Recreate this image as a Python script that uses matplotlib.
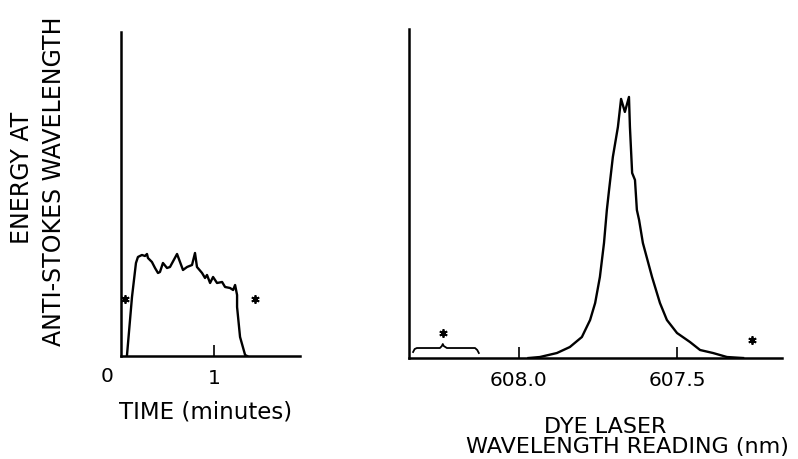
import matplotlib
matplotlib.use("Agg")
import matplotlib.pyplot as plt
import numpy as np

plt.rcParams['font.family'] = ['DejaVu Sans']

# left panel: energy vs time (minutes), arbitrary units
time_min = [0.209, 0.255, 0.291, 0.309, 0.345, 0.373, 0.391, 0.400, 0.436, 0.464,
            0.491, 0.509, 0.536, 0.573, 0.600, 0.664, 0.691, 0.718, 0.755, 0.800,
            0.827, 0.845, 0.891, 0.918, 0.936, 0.964, 0.991, 1.027, 1.073, 1.100,
            1.145, 1.173, 1.191, 1.209, 1.209, 1.236, 1.282, 1.300]
energy_t = [0.0, 0.59, 0.93, 0.99, 1.01, 1.00, 1.02, 0.98, 0.94, 0.88,
            0.83, 0.84, 0.93, 0.88, 0.89, 1.02, 0.94, 0.86, 0.89, 0.91,
            1.03, 0.89, 0.83, 0.78, 0.81, 0.73, 0.79, 0.73, 0.74, 0.69,
            0.68, 0.66, 0.71, 0.61, 0.49, 0.19, 0.01, 0.0]
star_t = [0.191, 1.373]
star_t_e = [0.57, 0.57]

# right panel: energy vs dye laser wavelength reading (nm)
wavelength = [607.970, 607.934, 607.880, 607.839, 607.801, 607.775, 607.759, 607.744,
              607.731, 607.722, 607.715, 607.703, 607.687, 607.677, 607.665, 607.652,
              607.649, 607.642, 607.633, 607.627, 607.620, 607.608, 607.579, 607.554,
              607.532, 607.500, 607.459, 607.427, 607.386, 607.342, 607.291]
energy_w = [0.0, 0.01, 0.05, 0.11, 0.21, 0.38, 0.55, 0.81,
            1.15, 1.48, 1.68, 2.01, 2.31, 2.59, 2.46, 2.61,
            2.31, 1.85, 1.78, 1.48, 1.38, 1.15, 0.81, 0.55,
            0.38, 0.25, 0.16, 0.08, 0.05, 0.01, 0.0]
star_w = [608.241, 607.263]
star_w_e = [0.25, 0.18]
brace_w = [608.335, 608.330, 608.323, 608.300, 608.250, 608.244, 608.241, 608.238,
           608.228, 608.170, 608.139, 608.132, 608.127]
brace_e = [0.06, 0.09, 0.10, 0.10, 0.10, 0.12, 0.14, 0.12,
           0.10, 0.10, 0.10, 0.08, 0.05]

fig = plt.figure(figsize=(7.98, 4.59), dpi=100)
axL = fig.add_axes([0.1516, 0.2244, 0.2243, 0.706])
axR = fig.add_axes([0.5125, 0.2200, 0.4674, 0.717])

star = (6, 2, 0)

for ax in (axL, axR):
    for s in ('top', 'right'):
        ax.spines[s].set_visible(False)
    for s in ('left', 'bottom'):
        ax.spines[s].set_linewidth(1.8)
    ax.set_yticks([])
    ax.tick_params(axis='x', direction='in', length=8, width=1.2, pad=9, labelsize=14.5)

#left
axL.plot(time_min, energy_t, color='black', lw=1.7)
axL.plot(star_t, star_t_e, ls='none', marker=star, ms=6, mew=1.3, color='black')
axL.set_xlim(0.155, 1.78)
axL.set_ylim(0, 3.24)
axL.set_xticks([1])
axL.set_xticklabels(['1'])
axL.text(0.025, -0.064, '0', transform=axL.get_xaxis_transform(), ha='center', va='center',
         fontsize=14.5, clip_on=False)

#right
axR.plot(wavelength, energy_w, color='black', lw=1.7)
axR.plot(star_w, star_w_e, ls='none', marker=star, ms=6, mew=1.3, color='black')
axR.plot(brace_w, brace_e, color='black', lw=1.3)
axR.set_xlim(608.348, 607.168)
axR.set_ylim(0, 3.29)
axR.set_xticks([608.0, 607.5])
axR.set_xticklabels(['608.0', '607.5'])

# labels
fig.text(22 / 798, 1 - 178 / 459, 'ENERGY AT', rotation=90, ha='center', va='center', fontsize=17)
fig.text(54 / 798, 1 - 181 / 459, 'ANTI-STOKES WAVELENGTH', rotation=90, ha='center', va='center',
         fontsize=17)
fig.text(206 / 798, 1 - 412 / 459, 'TIME (minutes)', ha='center', va='center', fontsize=16.5)
fig.text(605 / 798, 1 - 433 / 459, 'DYE LASER', ha='center', va='baseline', fontsize=16)
fig.text(627 / 798, 1 - 453 / 459, 'WAVELENGTH READING (nm)', ha='center', va='baseline', fontsize=16)

fig.savefig('out.png', dpi=100)
